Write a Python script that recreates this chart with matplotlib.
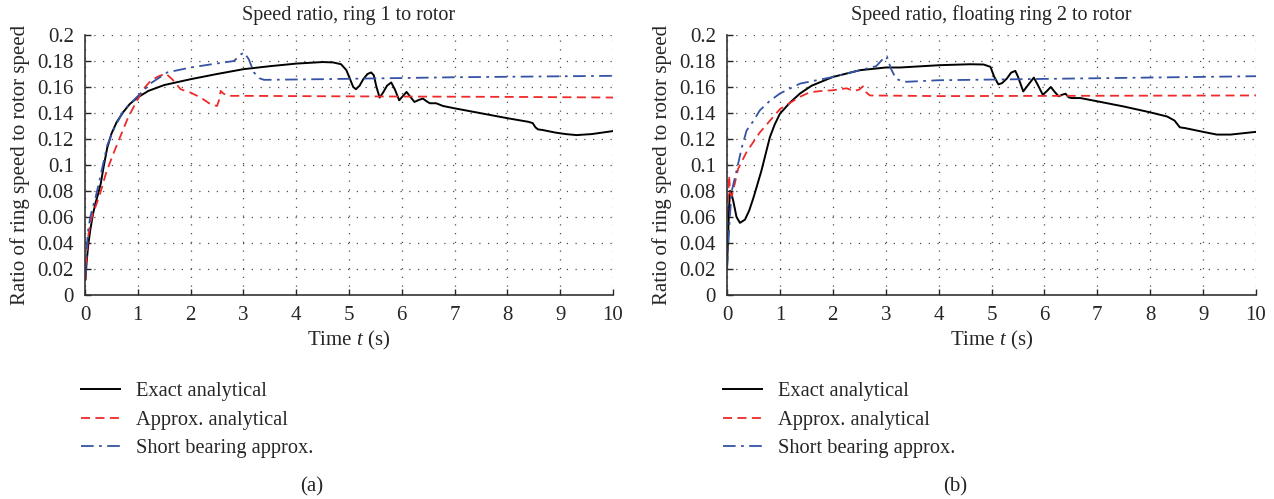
import matplotlib
matplotlib.use("Agg")
import matplotlib.pyplot as plt

plt.rcParams['font.family'] = ['Liberation Serif', 'DejaVu Serif']
plt.rcParams['mathtext.fontset'] = 'custom'
plt.rcParams['mathtext.rm'] = 'Liberation Serif'
plt.rcParams['mathtext.it'] = 'Liberation Serif:italic'

# ---------------- data: panel (a) ----------------
a_exact_t = [0.01, 0.03, 0.06, 0.1, 0.15, 0.2, 0.25, 0.3, 0.35, 0.42, 0.5, 0.6, 0.73, 0.85, 1.0,
             1.2, 1.5, 2.0, 2.5, 3.0, 3.5, 4.0, 4.5, 4.7, 4.85, 4.95, 5.02, 5.08, 5.13, 5.2, 5.27,
             5.35, 5.42, 5.47, 5.52, 5.58, 5.65, 5.72, 5.8, 5.87, 5.95, 6.02, 6.09, 6.17, 6.24,
             6.32, 6.4, 6.47, 6.53, 6.65, 6.78, 7.0, 7.5, 8.0, 8.4, 8.48, 8.53, 8.58, 8.67, 8.9,
             9.1, 9.31, 9.6, 10.0]
a_exact_v = [0.012, 0.025, 0.038, 0.05, 0.062, 0.071, 0.078, 0.086, 0.098, 0.113, 0.124, 0.133,
             0.141, 0.147, 0.152, 0.157, 0.1615, 0.166, 0.170, 0.1737, 0.176, 0.178, 0.1792,
             0.1789, 0.1775, 0.173, 0.166, 0.160, 0.1583, 0.161, 0.166, 0.170, 0.1712, 0.169,
             0.160, 0.1519, 0.156, 0.161, 0.1635, 0.158, 0.1498, 0.153, 0.1562, 0.152, 0.1485,
             0.150, 0.1511, 0.149, 0.1475, 0.1475, 0.1454, 0.1436, 0.1398, 0.136, 0.1332, 0.1322,
             0.129, 0.1274, 0.1269, 0.125, 0.1238, 0.123, 0.1238, 0.1261]

a_approx_t = [0.01, 0.03, 0.06, 0.1, 0.15, 0.2, 0.29, 0.4, 0.54, 0.7, 0.8, 0.9, 1.0, 1.12, 1.24,
              1.38, 1.53, 1.65, 1.81, 2.0, 2.19, 2.38, 2.5, 2.54, 2.57, 2.62, 2.7, 3.0, 5.0, 8.0, 10.0]
a_approx_v = [0.012, 0.03, 0.045, 0.055, 0.063, 0.068, 0.0785, 0.094, 0.109, 0.125, 0.135, 0.143,
              0.1506, 0.159, 0.1647, 0.168, 0.1704, 0.166, 0.1583, 0.1557, 0.1519, 0.1467, 0.1454,
              0.150, 0.157, 0.155, 0.1532, 0.1532, 0.1528, 0.1524, 0.1519]

a_short_t = [0.01, 0.03, 0.06, 0.1, 0.15, 0.2, 0.29, 0.42, 0.55, 0.73, 1.0, 1.25, 1.557, 2.0, 2.4,
             2.82, 2.95, 3.01, 3.1, 3.2, 3.3, 3.39, 4.47, 7.0, 10.0]
a_short_v = [0.015, 0.035, 0.05, 0.06, 0.068, 0.075, 0.091, 0.115, 0.128, 0.142, 0.153, 0.163,
             0.1712, 0.175, 0.1775, 0.180, 0.185, 0.1866, 0.1815, 0.1712, 0.1668, 0.1655, 0.166,
             0.1675, 0.1686]

# ---------------- data: panel (b) ----------------
b_exact_t = [0.0, 0.02, 0.04, 0.057, 0.08, 0.12, 0.18, 0.245, 0.34, 0.42, 0.5, 0.65, 0.81, 0.9,
             1.0, 1.19, 1.38, 1.6, 2.0, 2.51, 3.0, 3.27, 4.03, 4.6, 4.85, 4.98, 5.05, 5.13, 5.2,
             5.29, 5.37, 5.45, 5.5, 5.6, 5.7, 5.8, 5.87, 5.97, 6.05, 6.12, 6.2, 6.27, 6.33, 6.4,
             6.46, 6.52, 6.68, 7.0, 7.5, 8.0, 8.32, 8.46, 8.56, 8.67, 9.0, 9.26, 9.52, 10.0]
b_exact_v = [0.02, 0.045, 0.068, 0.08, 0.079, 0.072, 0.060, 0.0555, 0.058, 0.065, 0.0748, 0.0955,
             0.1213, 0.131, 0.1394, 0.148, 0.155, 0.161, 0.1677, 0.1729, 0.175, 0.175, 0.1768,
             0.1775, 0.1773, 0.1755, 0.168, 0.162, 0.163, 0.1665, 0.171, 0.1724, 0.168, 0.1566,
             0.162, 0.1672, 0.162, 0.154, 0.157, 0.160, 0.156, 0.1528, 0.154, 0.1548, 0.152,
             0.1515, 0.1515, 0.149, 0.145, 0.1405, 0.1373, 0.1342, 0.129, 0.1283, 0.1255, 0.1234,
             0.1234, 0.1255]

b_approx_t = [0.0, 0.02, 0.04, 0.06, 0.09, 0.12, 0.21, 0.37, 0.62, 1.0, 1.38, 1.57, 1.8, 2.0,
              2.26, 2.4, 2.5, 2.57, 2.63, 2.7, 4.0, 10.0]
b_approx_v = [0.06, 0.075, 0.092, 0.078, 0.076, 0.081, 0.097, 0.11, 0.125, 0.143, 0.1525, 0.156,
              0.157, 0.1575, 0.159, 0.157, 0.158, 0.1605, 0.156, 0.1535, 0.153, 0.1535]

b_short_t = [0.0, 0.025, 0.057, 0.09, 0.18, 0.28, 0.37, 0.5, 0.62, 0.8, 1.0, 1.38, 2.0, 2.51,
             2.82, 2.98, 3.02, 3.1, 3.2, 3.39, 4.0, 10.0]
b_short_v = [0.02, 0.0387, 0.062, 0.08, 0.0955, 0.1135, 0.1265, 0.134, 0.142, 0.149, 0.155,
             0.1626, 0.1677, 0.1729, 0.176, 0.183, 0.1837, 0.174, 0.166, 0.164, 0.1652, 0.1683]

series_labels = ['Exact analytical', 'Approx. analytical', 'Short bearing approx.']
titles = ['Speed ratio, ring 1 to rotor', 'Speed ratio, floating ring 2 to rotor']
panel_tags = ['(a)', '(b)']
x_ticks = list(range(0, 11))
y_ticks = [0, 0.02, 0.04, 0.06, 0.08, 0.1, 0.12, 0.14, 0.16, 0.18, 0.2]
y_ticklabels = ['0', '0.02', '0.04', '0.06', '0.08', '0.1', '0.12', '0.14', '0.16', '0.18', '0.2']

panels = [
    (a_exact_t, a_exact_v, a_approx_t, a_approx_v, a_short_t, a_short_v),
    (b_exact_t, b_exact_v, b_approx_t, b_approx_v, b_short_t, b_short_v),
]

W, H = 1274, 499
fig = plt.figure(figsize=(W / 100, H / 100), dpi=100)
axes_px = [(85, 613), (727, 1256)]
top_px, bot_px = 35, 295
legend_px = [81, 723]
tag_px = [312, 955]

FS = 15
for i, (ax_px, data) in enumerate(zip(axes_px, panels)):
    l, r = ax_px
    ax = fig.add_axes([l / W, (H - bot_px) / H, (r - l) / W, (bot_px - top_px) / H])
    et, ev, at, av, st, sv = data
    ax.plot(et, ev, color='black', lw=1.4, ls='-', label=series_labels[0])
    ax.plot(at, av, color='#ee2a2a', lw=1.3, ls=(0, (5, 3)), label=series_labels[1])
    ax.plot(st, sv, color='#3553a5', lw=1.3, ls=(0, (7, 3, 1.5, 3)), label=series_labels[2])
    ax.set_xlim(0, 10)
    ax.set_ylim(0, 0.2)
    ax.set_xticks(x_ticks)
    ax.set_yticks(y_ticks)
    ax.set_yticklabels(y_ticklabels)
    ax.grid(True, color='0.3', lw=0.9, ls=(0, (1, 6)))
    for s in ['top', 'right']:
        ax.spines[s].set_visible(False)
    for s in ['left', 'bottom']:
        ax.spines[s].set_color('0.2')
        ax.spines[s].set_linewidth(1.2)
    ax.tick_params(direction='in', length=4, width=1, labelsize=FS, pad=8, colors='0.15')
    ax.tick_params(axis='y', pad=8)
    ax.set_title(titles[i], fontsize=FS - 0.5, pad=11, color='0.15')
    ax.set_xlabel('Time $t$ (s)', fontsize=FS, labelpad=3, color='0.15')
    ax.set_ylabel('Ratio of ring speed to rotor speed', fontsize=FS, labelpad=5, color='0.15')
    ax.legend(loc='upper left', bbox_to_anchor=(legend_px[i] / W, 1 - 382 / H),
              bbox_transform=fig.transFigure, frameon=False, fontsize=FS - 0.3,
              handlelength=1.9, handletextpad=0.8, labelspacing=0.45,
              borderpad=0, borderaxespad=0, labelcolor='0.15')
    fig.text(tag_px[i] / W, 1 - 487 / H, panel_tags[i], fontsize=FS, ha='center', va='center',
             color='0.15')

fig.savefig('out.png', dpi=100)
